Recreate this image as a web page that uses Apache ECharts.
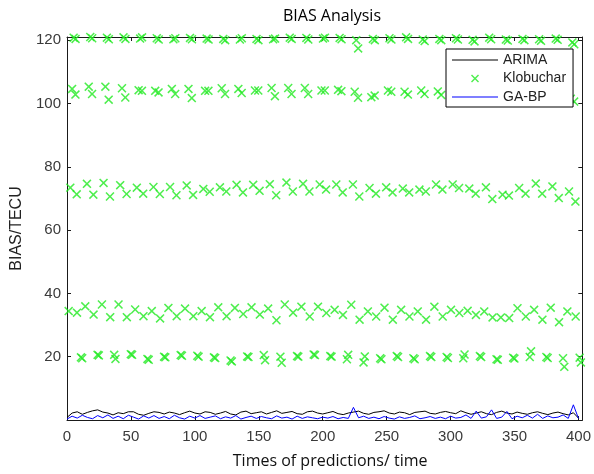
<!DOCTYPE html>
<html><head><meta charset="utf-8">
<script src="https://cdn.jsdelivr.net/npm/echarts@6/dist/echarts.min.js"></script>
<style>html,body{margin:0;padding:0;background:#fff}#c{width:594px;height:474px}</style>
</head><body><div id="c"></div>
<script>
// ---- data ----
const sampleStep = 4; // prediction index spacing of the line samples
const arimaBias = [
  0.8, 2.2, 2.6, 1.8, 2.4, 2.9, 3.2, 2.5, 2.2, 1.6,
  2.3, 2.0, 2.6, 2.6, 1.8, 1.5, 2.1, 2.6, 2.4, 1.9,
  2.5, 2.2, 1.7, 2.3, 2.8, 2.2, 1.9, 2.6, 2.4, 1.8,
  2.2, 2.7, 1.9, 1.6, 2.5, 2.8, 2.0, 2.3, 2.6, 1.9,
  2.4, 2.9, 2.1, 2.4, 2.7, 2.0, 1.8, 2.6, 2.8, 2.2,
  1.9, 2.3, 2.7, 2.0, 1.7, 2.2, 2.5, 2.8, 2.1, 1.8,
  2.4, 2.6, 2.9, 2.2, 1.9, 2.5, 2.3, 1.7, 2.4, 2.6,
  2.8, 2.1, 1.9, 2.4, 2.7, 2.3, 2.0, 2.9, 2.3, 1.8,
  2.2, 2.6, 2.0, 1.7, 2.4, 2.8, 2.2, 1.9, 2.5, 2.1,
  1.8, 2.3, 2.6, 2.1, 1.7, 2.2, 2.5, 2.0, 1.6, 2.3,
  0.6
];
const gabpBias = [
  0.3, 1.2, 0.6, 1.5, 0.8, 0.4, 1.4, 0.7, 1.6, 0.5,
  1.2, 0.4, 1.5, 0.9, 0.3, 1.3, 0.6, 1.4, 0.5, 1.1,
  0.4, 1.5, 0.7, 0.3, 1.2, 0.6, 1.4, 0.5, 0.9, 1.3,
  0.4, 1.0, 0.6, 1.4, 0.3, 0.8, 1.2, 0.5, 1.1, 0.7,
  0.4, 1.3, 0.6, 0.9, 0.3, 1.2, 0.5, 1.0, 0.7, 0.4,
  0.9, 0.6, 1.1, 0.4, 0.8, 0.5, 4.0, 0.7, 1.2, 0.5,
  0.9, 0.4, 1.1, 0.6, 0.3, 1.0, 0.5, 0.8, 1.3, 0.4,
  0.7, 1.1, 0.5, 0.9, 0.4, 1.2, 0.6, 0.8, 1.6, 0.5,
  2.8, 0.6, 1.0, 3.2, 0.5, 0.9, 2.7, 0.4, 1.2, 0.7,
  1.5, 0.6, 1.8, 0.5, 1.3, 0.7, 0.9, 1.6, 0.5, 4.8,
  0.5
];
// Klobuchar: five bands, pairs of points every klobStep predictions
const klobStep = 13;
const klobStartX = [5.2, 4.0, 2.6, 1.3, 10.9];
const klobPairOffset = [1.5, 2.6, 5.0, 6.5, 1.0];
const klob120A = [120.8, 121.0, 120.8, 120.9, 120.5, 120.6, 120.3, 120.7, 120.5, 120.4, 120.2, 120.4, 120.3, 120.8, 120.7, 120.5, 120.7, 120.0, 120.4, 120.6, 120.9, 120.2, 120.4, 120.6, 120.1, 120.8, 120.2, 120.4, 120.3, 120.5, 119.3];
const klob120B = [120.4, 120.6, 120.3, 120.4, 120.9, 120.2, 120.6, 120.3, 120.2, 120.0, 120.6, 120.0, 120.5, 120.4, 120.2, 120.8, 120.3, 117.4, 120.0, 120.2, 120.4, 119.7, 120.0, 120.2, 119.6, 120.3, 119.9, 120.0, 119.8, 120.1, 118.7];
const klob103A = [104.6, 105.3, 105.3, 104.8, 104.2, 104.0, 104.6, 104.6, 104.0, 104.8, 104.6, 104.1, 104.9, 104.9, 104.9, 104.1, 104.3, 103.7, 102.0, 104.1, 103.7, 104.1, 103.8, 104.3, 104.0, 104.5, 103.9, 104.2, 103.6, 104.0, 101.5];
const klob103B = [102.8, 103.0, 101.2, 101.9, 104.0, 103.5, 103.0, 101.7, 104.0, 103.0, 103.3, 104.1, 102.3, 103.0, 103.0, 104.1, 103.9, 101.8, 102.5, 103.7, 102.8, 103.0, 102.7, 103.1, 102.5, 103.2, 102.4, 103.0, 102.6, 102.9, 100.6];
const klob72A = [73.4, 74.6, 74.9, 74.2, 73.4, 73.6, 73.6, 74.1, 73.0, 73.5, 74.3, 74.3, 74.5, 75.0, 74.6, 74.4, 74.4, 74.4, 73.3, 73.5, 73.1, 72.8, 74.4, 74.4, 73.1, 73.5, 71.2, 73.3, 74.7, 73.8, 72.2];
const klob72B = [71.3, 71.2, 70.6, 71.4, 71.5, 71.4, 71.0, 71.1, 72.1, 72.2, 71.9, 72.4, 71.0, 72.2, 72.2, 72.8, 71.9, 70.6, 71.5, 71.9, 71.9, 72.2, 72.8, 73.3, 71.5, 69.8, 70.9, 71.5, 71.5, 70.1, 69.0];
const klob34A = [34.4, 35.9, 36.5, 36.5, 34.9, 34.4, 35.4, 35.2, 34.4, 35.6, 35.4, 35.6, 35.2, 36.5, 35.8, 35.8, 34.8, 36.4, 34.3, 35.5, 34.8, 34.3, 35.8, 34.8, 34.5, 34.3, 32.4, 35.3, 34.8, 35.5, 34.3];
const klob34B = [33.9, 33.3, 32.5, 32.5, 32.8, 32.1, 32.8, 32.8, 32.5, 32.8, 33.5, 33.3, 31.5, 33.9, 32.7, 33.8, 33.2, 31.7, 32.7, 31.7, 32.7, 31.7, 32.7, 33.8, 33.2, 32.4, 32.2, 32.7, 31.7, 30.9, 32.7];
const klob20A = [19.8, 20.6, 20.6, 20.8, 19.3, 20.0, 20.5, 20.3, 19.8, 18.8, 20.1, 20.5, 20.0, 20.2, 20.7, 20.2, 19.2, 18.2, 19.5, 20.2, 19.5, 20.2, 19.9, 19.5, 20.2, 19.2, 19.7, 19.9, 19.9, 19.5, 19.7];
const klob20B = [19.5, 20.4, 19.3, 20.6, 19.0, 19.8, 20.3, 20.0, 19.6, 18.5, 19.9, 18.9, 18.1, 20.0, 20.5, 20.0, 20.6, 20.1, 19.2, 19.9, 19.2, 19.9, 19.6, 20.7, 19.9, 19.0, 19.4, 21.7, 19.6, 16.8, 18.2];
const xTickValues = [0, 50, 100, 150, 200, 250, 300, 350, 400];
const yTickValues = [20, 40, 60, 80, 100, 120];
const seriesNames = ['ARIMA', 'Klobuchar', 'GA-BP'];

// ---- build ----
const klobBands = [[klob120A, klob120B], [klob103A, klob103B], [klob72A, klob72B], [klob34A, klob34B], [klob20A, klob20B]];
const klobData = [];
klobBands.forEach(function (band, b) {
  band[0].forEach(function (v, k) {
    const x0 = klobStartX[b] + k * klobStep;
    klobData.push([x0, v]);
    klobData.push([x0 + klobPairOffset[b], band[1][k]]);
  });
});
const arimaData = arimaBias.map(function (v, i) { return [i * sampleStep, v]; });
const gabpData = gabpBias.map(function (v, i) { return [i * sampleStep, v]; });

const xMark = 'path://M0,1.2L1.2,0L5,3.8L8.8,0L10,1.2L6.2,5L10,8.8L8.8,10L5,6.2L1.2,10L0,8.8L3.8,5Z';
const legendX = 'path://M0,0L0,0M19,4L20,3L23,6L26,3L27,4L24,7L27,10L26,11L23,8L20,11L19,10L22,7ZM46,14L46,14';
const legendLine = 'path://M0,0L0,0M0,6.5L46,6.5L46,7.5L0,7.5ZM46,14L46,14';

const tickFont = { fontFamily: 'Liberation Sans', fontSize: 15, color: '#3a3a3a' };
const axisLineStyle = { color: '#1a1a1a', width: 1 };

const chart = echarts.init(document.getElementById('c'), null, { renderer: 'canvas' });
chart.setOption({
  animation: false,
  backgroundColor: '#fff',
  title: {
    text: 'BIAS Analysis', left: 283, top: 8, padding: 0,
    textStyle: { fontFamily: 'Open Sans', fontSize: 16, fontWeight: 'normal', color: '#000' }
  },
  legend: {
    orient: 'vertical', left: 446, top: 49,
    padding: [4, 7, 3, 6], itemGap: 4.5, itemWidth: 46, itemHeight: 14, itemTextGap: 4,
    backgroundColor: '#fff', borderColor: '#000', borderWidth: 1,
    textStyle: { fontFamily: 'Liberation Sans', fontSize: 14, color: '#222' },
    itemStyle: { borderWidth: 0 },
    data: [
      { name: seriesNames[0], icon: legendLine },
      { name: seriesNames[1], icon: legendX },
      { name: seriesNames[2], icon: legendLine }
    ]
  },
  grid: { left: 67, right: 9, top: 37, bottom: 53, show: false },
  xAxis: [{
    type: 'value', min: 0, max: 403, interval: 50, position: 'bottom',
    name: 'Times of predictions/ time', nameLocation: 'middle', nameGap: 33,
    nameTextStyle: { fontFamily: 'Open Sans', fontSize: 16, color: '#111', padding: [0, 0, 0, 11] },
    axisLine: { show: true, onZero: false, lineStyle: axisLineStyle },
    axisTick: { show: true, inside: true, length: 4, lineStyle: axisLineStyle },
    axisLabel: Object.assign({ margin: 9, formatter: function (v) { return xTickValues.indexOf(v) >= 0 ? String(v) : ''; } }, tickFont),
    splitLine: { show: false }
  }, {
    type: 'value', min: 0, max: 403, interval: 50, position: 'top',
    axisLine: { show: true, onZero: false, lineStyle: axisLineStyle },
    axisTick: { show: true, inside: true, length: 4, lineStyle: axisLineStyle },
    axisLabel: { show: false }, splitLine: { show: false }
  }],
  yAxis: [{
    type: 'value', min: 0, max: 121, interval: 20, position: 'left',
    name: 'BIAS/TECU', nameLocation: 'middle', nameGap: 41,
    nameTextStyle: { fontFamily: 'Liberation Sans', fontSize: 16, color: '#222' },
    axisLine: { show: true, onZero: false, lineStyle: axisLineStyle },
    axisTick: { show: true, inside: true, length: 4, lineStyle: axisLineStyle },
    axisLabel: Object.assign({ margin: 6, formatter: function (v) { return yTickValues.indexOf(v) >= 0 ? String(v) : ''; } }, tickFont),
    splitLine: { show: false }
  }, {
    type: 'value', min: 0, max: 121, interval: 20, position: 'right',
    axisLine: { show: true, onZero: false, lineStyle: axisLineStyle },
    axisTick: { show: true, inside: true, length: 4, lineStyle: axisLineStyle },
    axisLabel: { show: false }, splitLine: { show: false }
  }],
  series: [{
    name: seriesNames[0], type: 'line', data: arimaData, symbol: 'none',
    color: '#000', lineStyle: { color: '#000', width: 1 }, z: 3
  }, {
    name: seriesNames[1], type: 'scatter', data: klobData, symbol: xMark, symbolSize: 9,
    color: '#22ea22', itemStyle: { color: '#22ea22' }, clip: false, z: 2
  }, {
    name: seriesNames[2], type: 'line', data: gabpData, symbol: 'none',
    color: '#0000ff', lineStyle: { color: '#0000ff', width: 1 }, z: 4
  }]
});
</script>
</body></html>
